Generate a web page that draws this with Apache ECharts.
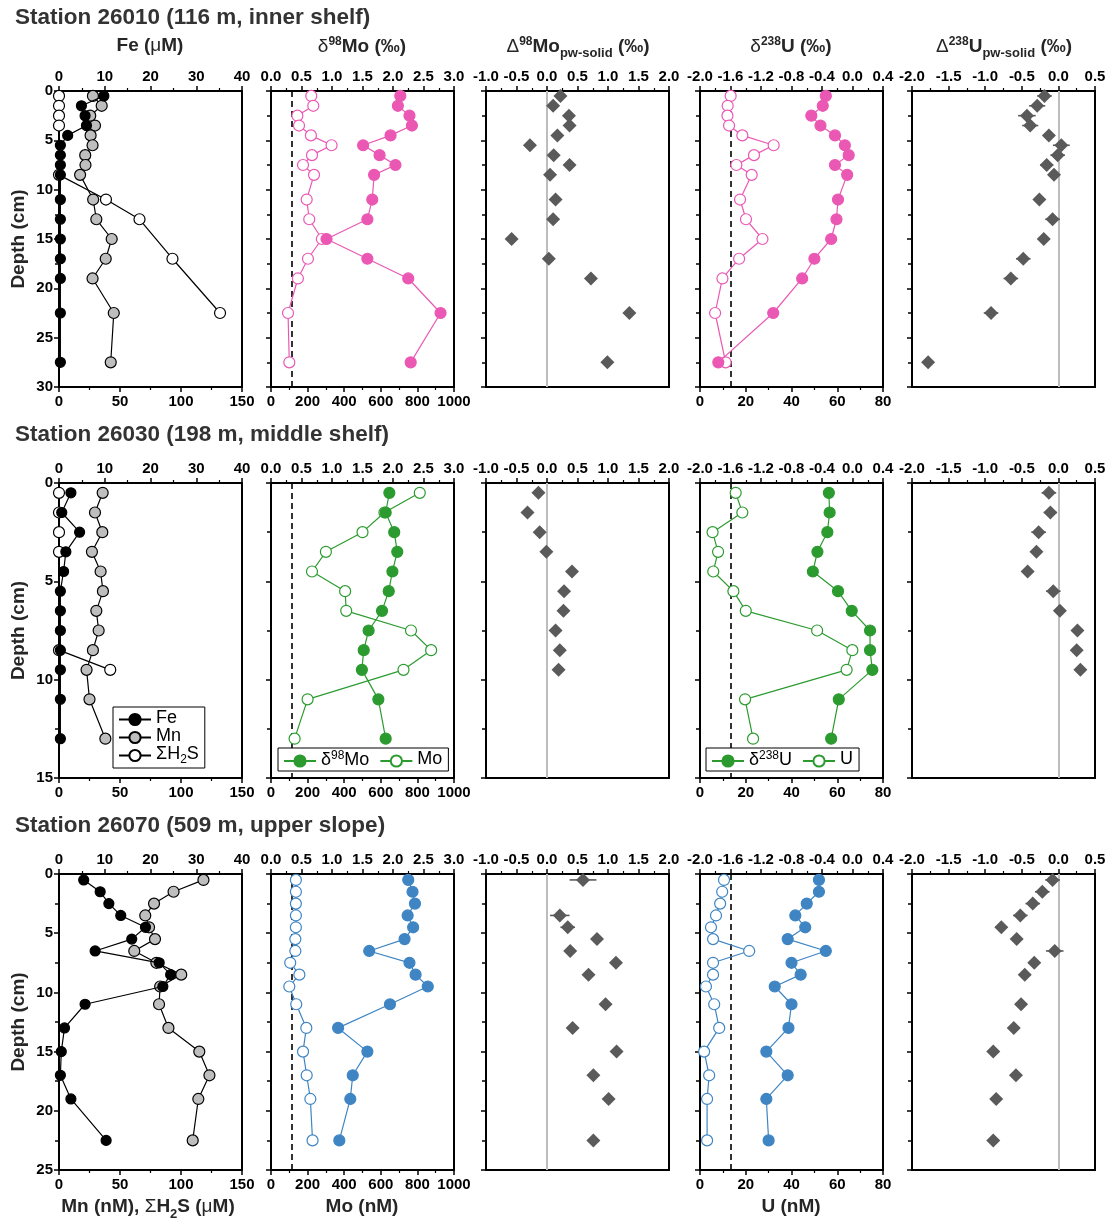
<!DOCTYPE html>
<html><head><meta charset="utf-8">
<script src="https://cdn.jsdelivr.net/npm/echarts@6/dist/echarts.min.js"></script>
<style>html,body{margin:0;padding:0;background:#fff}#c{width:1112px;height:1220px}</style>
</head><body><div id="c"></div>
<script>
// ===================== DATA =====================
// Station 26010
const depth1 = [0.5,1.5,2.5,3.5,4.5,5.5,6.5,7.5,8.5,11,13,15,17,19,22.5,27.5];
const fe1 = [9.8,4.9,5.7,6.0,1.9,0.3,0.3,0.3,0.3,0.3,0.3,0.3,0.3,0.3,0.3,0.3];
const mn1 = [27.8,35.0,25.6,29.5,25.9,27.5,21.5,21.7,17.3,28.0,30.6,43.2,38.3,27.5,44.9,42.4];
const h2sDepth1 = [0.5,1.5,2.5,3.5,8.5,11,13,17,22.5];
const h2s1 = [0,0,0,0,0,38.5,66,93,132];
const d98Mo1 = [2.12,2.08,2.27,2.31,1.96,1.51,1.78,2.04,1.69,1.66,1.58,0.91,1.58,2.25,2.78,2.29];
const mo1 = [220,231,144,153,218,331,224,175,235,195,209,278,202,147,93,100];
const dd98Mo1 = [0.22,0.10,0.36,0.37,0.17,-0.28,0.11,0.37,0.05,0.14,0.10,-0.58,0.03,0.72,1.35,0.99];
const d238U1 = [-0.35,-0.39,-0.54,-0.42,-0.23,-0.10,-0.05,-0.23,-0.07,-0.19,-0.21,-0.28,-0.50,-0.66,-1.04,-1.76];
const u1 = [13.4,12.1,12.0,12.7,18.5,32.2,23.6,15.9,22.6,17.5,20.1,27.3,17.1,9.8,6.6,11.2];
const dd238U1 = [-0.19,-0.29,-0.43,-0.385,-0.13,0.04,-0.01,-0.16,-0.06,-0.26,-0.08,-0.20,-0.48,-0.65,-0.92,-1.78];
const dd238UErr1 = [0.10,0.11,0.12,0.11,0.08,0.115,0.10,0.09,0.08,0.05,0.10,0.07,0.10,0.10,0.10,0.06];

// Station 26030
const depth2 = [0.5,1.5,2.5,3.5,4.5,5.5,6.5,7.5,8.5,9.5,11,13];
const fe2 = [2.6,0.6,4.5,1.5,1.0,0.3,0.3,0.3,0.3,0.3,0.3,0.3];
const mn2 = [35.8,29.5,35.5,27.0,34.1,36.0,30.6,32.5,27.8,22.6,25.0,38.0];
const h2sDepth2 = [0.5,1.5,2.5,3.5,8.5,9.5];
const h2s2 = [0,0,0,0,0,42];
const d98Mo2 = [1.94,1.88,2.02,2.07,1.99,1.93,1.82,1.60,1.52,1.49,1.76,1.88];
const mo2 = [813,620,500,300,224,405,411,765,875,724,200,129];
const isoDepth2 = [0.5,1.5,2.5,3.5,4.5,5.5,6.5,7.5,8.5,9.5];
const dd98Mo2 = [-0.14,-0.32,-0.12,-0.01,0.41,0.28,0.27,0.14,0.21,0.19];
const d238U2 = [-0.31,-0.30,-0.33,-0.46,-0.52,-0.19,-0.01,0.23,0.23,0.26,-0.18,-0.28];
const u2 = [15.6,18.5,5.5,7.9,5.8,14.6,20.0,51.2,66.6,64.1,19.7,23.2];
const dd238U2 = [-0.13,-0.11,-0.27,-0.30,-0.42,-0.07,0.02,0.26,0.25,0.30];
const dd238UErr2 = [0.10,0.09,0.10,0.07,0.06,0.10,0.07,0.06,0.07,0.06];

// Station 26070
const depth3 = [0.5,1.5,2.5,3.5,4.5,5.5,6.5,7.5,8.5,9.5,11,13,15,17,19,22.5];
const fe3 = [5.4,9.0,10.9,13.5,18.9,15.9,7.9,21.9,24.4,22.7,5.7,1.2,0.5,0.3,2.6,10.3];
const mn3 = [118.4,93.9,77.9,70.7,73.8,78.7,61.7,79.8,100.2,82.9,82.0,89.7,115.0,123.3,114.2,109.6];
const d98Mo3 = [2.25,2.32,2.36,2.24,2.33,2.19,1.61,2.27,2.37,2.57,1.95,1.10,1.58,1.34,1.30,1.12];
const mo3 = [136,136,136,136,136,133,133,105,155,100,138,193,175,195,215,227];
const dd98MoDepth3 = [0.5,3.5,4.5,5.5,6.5,7.5,8.5,11,13,15,17,19,22.5];
const dd98Mo3 = [0.59,0.21,0.34,0.82,0.38,1.13,0.68,0.96,0.42,1.14,0.76,1.01,0.76];
const dd98MoErr3 = [0.22,0.16,0.12,0.05,0.05,0.05,0.05,0.05,0.05,0.05,0.05,0.05,0.05];
const d238U3 = [-0.44,-0.44,-0.60,-0.75,-0.62,-0.85,-0.35,-0.80,-0.68,-1.02,-0.80,-0.84,-1.13,-0.85,-1.13,-1.10];
const u3 = [10.5,9.7,8.8,7.0,4.8,5.7,21.5,5.7,5.7,2.6,6.2,8.4,1.8,4.0,3.1,3.1];
const dd238UDepth3 = [0.5,1.5,2.5,3.5,4.5,5.5,6.5,7.5,8.5,11,13,15,17,19,22.5];
const dd238U3 = [-0.08,-0.22,-0.35,-0.52,-0.78,-0.57,-0.05,-0.33,-0.46,-0.51,-0.61,-0.89,-0.58,-0.85,-0.89];
const dd238UErr3 = [0.10,0.10,0.10,0.10,0.08,0.08,0.12,0.08,0.08,0.08,0.08,0.06,0.08,0.06,0.06];

// reference (seawater) lines
const moSeawater = 112;
const uSeawater = 13.4;

// axis ranges / ticks
const depthMax = [30, 15, 25];
const topAxisSpec = [
  {min:0, max:40, interval:10, dec:0},
  {min:0, max:3, interval:0.5, dec:1},
  {min:-1, max:2, interval:0.5, dec:1},
  {min:-2, max:0.4, interval:0.4, dec:1},
  {min:-2, max:0.5, interval:0.5, dec:1}
];
const botAxisSpec = [
  {min:0, max:150, interval:50},
  {min:0, max:1000, interval:200},
  null,
  {min:0, max:80, interval:20},
  null
];

// ===================== STYLE / LAYOUT =====================
const FONT = 'Arial, "Liberation Sans", Helvetica, sans-serif';
const PINK = '#EA58B4', GREEN = '#2C9B2F', BLUE = '#3F85C3', DIAM = '#5A5A5A', GREYFILL = '#BEBEBE';
const colLeft = [59, 271, 486, 700, 912];
const rowTop = [91, 483, 874];
const rowH = [296, 295, 296];
const PW = 183;

function fmt(dec){ return function(v){ if (Math.abs(v) < 1e-9) v = 0; return v.toFixed(dec); }; }

const grids = [], xAxes = [], yAxes = [], series = [];
const labelStyle = {fontSize:15, fontWeight:'bold', fontFamily:FONT, color:'#000'};

for (let r = 0; r < 3; r++) {
  for (let c = 0; c < 5; c++) {
    const p = r*5 + c;
    grids.push({left:colLeft[c], top:rowTop[r], width:PW, height:rowH[r], show:true,
      borderColor:'#000', borderWidth:2, backgroundColor:'rgba(0,0,0,0)', containLabel:false, outerBoundsMode:'none'});
    const t = topAxisSpec[c];
    xAxes.push({type:'value', gridIndex:p, position:'top', min:t.min, max:t.max, interval:t.interval,
      axisLine:{show:true, onZero:false, lineStyle:{color:'#000', width:2}},
      axisTick:{show:true, inside:false, length:5, lineStyle:{color:'#000', width:1.5}},
      minorTick:{show:true, splitNumber:2, length:3, lineStyle:{color:'#000', width:1.2}},
      splitLine:{show:false}, minorSplitLine:{show:false},
      axisLabel:Object.assign({show:true, margin:7, formatter:fmt(t.dec), showMinLabel:true, showMaxLabel:true}, labelStyle)});
    const b = botAxisSpec[c];
    if (b) {
      xAxes.push({type:'value', gridIndex:p, position:'bottom', min:b.min, max:b.max, interval:b.interval,
        axisLine:{show:true, onZero:false, lineStyle:{color:'#000', width:2}},
        axisTick:{show:true, inside:false, length:5, lineStyle:{color:'#000', width:1.5}},
        minorTick:{show:true, splitNumber:2, length:3, lineStyle:{color:'#000', width:1.2}},
        splitLine:{show:false}, minorSplitLine:{show:false},
        axisLabel:Object.assign({show:true, margin:7, formatter:fmt(0), showMinLabel:true, showMaxLabel:true}, labelStyle)});
    } else {
      xAxes.push({type:'value', gridIndex:p, position:'bottom', show:false, min:0, max:1,
        axisLine:{onZero:false}, splitLine:{show:false}});
    }
    yAxes.push({type:'value', gridIndex:p, inverse:true, min:0, max:depthMax[r], interval:5,
      axisLine:{show:true, onZero:false, lineStyle:{color:'#000', width:2}},
      axisTick:{show:true, inside:false, length:5, lineStyle:{color:'#000', width:1.5}},
      minorTick:{show:true, splitNumber:2, length:4, lineStyle:{color:'#000', width:1.5}},
      splitLine:{show:false}, minorSplitLine:{show:false},
      axisLabel:Object.assign({show:c===0, margin:6, showMinLabel:true, showMaxLabel:true}, labelStyle)});
  }
}

function ln(p, top, name, xs, ys, fill, stroke, lineColor, size, z) {
  return {type:'line', name:name, xAxisIndex:2*p + (top?0:1), yAxisIndex:p,
    data: xs.map(function(v,i){ return [v, ys[i]]; }),
    symbol:'circle', symbolSize:size, showSymbol:true, showAllSymbol:true, clip:false,
    itemStyle:{color:fill, borderColor:stroke, borderWidth:1.2, opacity:1},
    lineStyle:{color:lineColor, width:1.2}, z:z, emphasis:{disabled:true}, silent:true, animation:false};
}
function dashed(val) {
  return {silent:true, symbol:['none','none'], z:1, animation:false, label:{show:false},
    lineStyle:{color:'#000', type:[6,4], width:1.6}, data:[{xAxis:val}]};
}
function zeroLine() {
  return {silent:true, symbol:['none','none'], z:1, animation:false, label:{show:false},
    lineStyle:{color:'#BDBDBD', type:'solid', width:2}, data:[{xAxis:0}]};
}
function diamonds(p, xs, ys) {
  return {type:'scatter', xAxisIndex:2*p, yAxisIndex:p, data:xs.map(function(v,i){return [v, ys[i]];}),
    symbol:'diamond', symbolSize:14, itemStyle:{color:DIAM, opacity:1}, z:4, silent:true, animation:false,
    emphasis:{disabled:true}, markLine:zeroLine()};
}
function errBars(p, xs, ys, es) {
  return {type:'custom', xAxisIndex:2*p, yAxisIndex:p, silent:true, z:3, animation:false,
    data:xs.map(function(v,i){return [v, ys[i], es[i]];}), encode:{x:0, y:1},
    renderItem:function(params, api){
      const x = api.value(0), y = api.value(1), e = api.value(2);
      const a = api.coord([x - e, y]), b = api.coord([x + e, y]);
      return {type:'line', shape:{x1:a[0], y1:a[1], x2:b[0], y2:b[1]}, style:{stroke:DIAM, lineWidth:1.6}};
    }};
}

// ---- Row 1: 26010 ----
series.push(ln(0,false,'Mn',mn1,depth1,GREYFILL,'#000','#000',11,3));
series.push(ln(0,false,'ΣH2S',h2s1,h2sDepth1,'#fff','#000','#000',11,3));
series.push(ln(0,true,'Fe',fe1,depth1,'#000','#000','#000',10,4));
let s = ln(1,false,'Mo-p',mo1,depth1,'#fff',PINK,PINK,11,3); s.markLine = dashed(moSeawater); series.push(s);
series.push(ln(1,true,'δ98Mo-p',d98Mo1,depth1,PINK,PINK,PINK,11,4));
series.push(diamonds(2,dd98Mo1,depth1));
s = ln(3,false,'U-p',u1,depth1,'#fff',PINK,PINK,11,3); s.markLine = dashed(uSeawater); series.push(s);
series.push(ln(3,true,'δ238U-p',d238U1,depth1,PINK,PINK,PINK,11,4));
series.push(errBars(4,dd238U1,depth1,dd238UErr1));
series.push(diamonds(4,dd238U1,depth1));

// ---- Row 2: 26030 ----
series.push(ln(5,false,'Mn',mn2,depth2,GREYFILL,'#000','#000',11,3));
series.push(ln(5,false,'ΣH2S',h2s2,h2sDepth2,'#fff','#000','#000',11,3));
series.push(ln(5,true,'Fe',fe2,depth2,'#000','#000','#000',10,4));
s = ln(6,false,'Mo-g',mo2,depth2,'#fff',GREEN,GREEN,11,3); s.markLine = dashed(moSeawater); series.push(s);
series.push(ln(6,true,'δ98Mo-g',d98Mo2,depth2,GREEN,GREEN,GREEN,11,4));
series.push(diamonds(7,dd98Mo2,isoDepth2));
s = ln(8,false,'U-g',u2,depth2,'#fff',GREEN,GREEN,11,3); s.markLine = dashed(uSeawater); series.push(s);
series.push(ln(8,true,'δ238U-g',d238U2,depth2,GREEN,GREEN,GREEN,11,4));
series.push(errBars(9,dd238U2,isoDepth2,dd238UErr2));
series.push(diamonds(9,dd238U2,isoDepth2));

// ---- Row 3: 26070 ----
series.push(ln(10,false,'Mn',mn3,depth3,GREYFILL,'#000','#000',11,3));
series.push(ln(10,true,'Fe',fe3,depth3,'#000','#000','#000',10,4));
s = ln(11,false,'Mo-b',mo3,depth3,'#fff',BLUE,BLUE,11,3); s.markLine = dashed(moSeawater); series.push(s);
series.push(ln(11,true,'δ98Mo-b',d98Mo3,depth3,BLUE,BLUE,BLUE,11,4));
series.push(errBars(12,dd98Mo3,dd98MoDepth3,dd98MoErr3));
series.push(diamonds(12,dd98Mo3,dd98MoDepth3));
s = ln(13,false,'U-b',u3,depth3,'#fff',BLUE,BLUE,11,3); s.markLine = dashed(uSeawater); series.push(s);
series.push(ln(13,true,'δ238U-b',d238U3,depth3,BLUE,BLUE,BLUE,11,4));
series.push(errBars(14,dd238U3,dd238UDepth3,dd238UErr3));
series.push(diamonds(14,dd238U3,dd238UDepth3));

// ---- legends ----
const legendLabels = {'Fe':'{t|Fe}','Mn':'{t|Mn}','ΣH2S':'{t|ΣH}{s|2}{t|S}',
  'δ98Mo-g':'{t|δ}{p|98}{t|Mo}','Mo-g':'{t|Mo}','δ238U-g':'{t|δ}{p|238}{t|U}','U-g':'{t|U}'};
const legendRich = {
  t:{fontSize:18, fontFamily:FONT, color:'#000', verticalAlign:'bottom', padding:[0,0,3,0]},
  s:{fontSize:12, fontFamily:FONT, color:'#000', verticalAlign:'bottom', padding:[0,0,0,0]},
  p:{fontSize:12, fontFamily:FONT, color:'#000', verticalAlign:'bottom', padding:[0,0,10,0]}
};
function legend(left, top, orient, names, gap) {
  return {left:left, top:top, orient:orient, data:names, selectedMode:false, itemWidth:32, itemHeight:14,
    itemGap:gap, padding:[2,6,2,5], borderColor:'#000', borderWidth:1, backgroundColor:'#fff',
    formatter:function(n){ return legendLabels[n]; },
    textStyle:{fontSize:18, fontFamily:FONT, color:'#000', rich:legendRich}};
}
const legends = [
  legend(113, 707, 'vertical', ['Fe','Mn','ΣH2S'], 0),
  legend(278, 748, 'horizontal', ['δ98Mo-g','Mo-g'], 10),
  legend(706, 748, 'horizontal', ['δ238U-g','U-g'], 10)
];

// ---- texts ----
const NAMECOL = '#262626';
const gRich = {
  n:{fontSize:19, fontWeight:'bold', fontFamily:FONT, fill:NAMECOL, verticalAlign:'bottom', padding:[0,0,4,0]},
  g:{fontSize:19, fontWeight:'normal', fontFamily:FONT, fill:NAMECOL, verticalAlign:'bottom', padding:[0,0,4,0]},
  sup:{fontSize:12, fontWeight:'bold', fontFamily:FONT, fill:NAMECOL, verticalAlign:'bottom', padding:[0,0,12,0]},
  sub:{fontSize:13, fontWeight:'bold', fontFamily:FONT, fill:NAMECOL, verticalAlign:'bottom', padding:[0,0,0,0]}
};
function rtext(x, y, text, rot) {
  return {type:'text', x:x, y:y, rotation:rot||0, silent:true,
    style:{text:text, rich:gRich, align:'center', verticalAlign:'middle', fontSize:19, fontWeight:'bold', fontFamily:FONT, fill:NAMECOL}};
}
function title(y, text) {
  return {type:'text', x:15, y:y, silent:true,
    style:{text:text, align:'left', verticalAlign:'middle', fontSize:22.5, fontWeight:'bold', fontFamily:FONT, fill:'#333'}};
}
const stationTitles = ['Station 26010 (116 m, inner shelf)', 'Station 26030 (198 m, middle shelf)', 'Station 26070 (509 m, upper slope)'];
const graphics = [
  title(18, stationTitles[0]), title(435, stationTitles[1]), title(826, stationTitles[2]),
  rtext(150, 48, '{n|Fe (}{g|μ}{n|M)}'),
  rtext(362, 48, '{g|δ}{sup|98}{n|Mo (‰)}'),
  rtext(578, 48, '{g|Δ}{sup|98}{n|Mo}{sub|pw-solid}{n| (‰)}'),
  rtext(791, 48, '{g|δ}{sup|238}{n|U (‰)}'),
  rtext(1004, 48, '{g|Δ}{sup|238}{n|U}{sub|pw-solid}{n| (‰)}'),
  rtext(148, 1209, '{n|Mn (nM), }{g|Σ}{n|H}{sub|2}{n|S (}{g|μ}{n|M)}'),
  rtext(362, 1209, '{n|Mo (nM)}'),
  rtext(791, 1209, '{n|U (nM)}')
];
for (let r = 0; r < 3; r++) graphics.push(rtext(21, rowTop[r] + rowH[r]/2, '{n|Depth (cm)}', Math.PI/2));

const chart = echarts.init(document.getElementById('c'), null, {renderer:'canvas'});
chart.setOption({
  animation:false,
  backgroundColor:'#fff',
  grid:grids, xAxis:xAxes, yAxis:yAxes, series:series, legend:legends, graphic:graphics,
  tooltip:{show:false}
});
</script></body></html>
